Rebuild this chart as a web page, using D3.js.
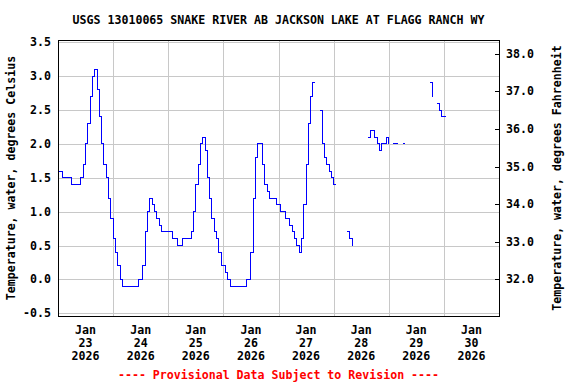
<!DOCTYPE html>
<html>
<head>
<meta charset="utf-8">
<script src="https://cdn.jsdelivr.net/npm/d3@7"></script>
<style>
  body { margin: 0; background: #fff; }
  svg text { font-family: "DejaVu Sans Mono", "Liberation Mono", monospace; font-weight: bold; font-size: 11.6px; }
</style>
</head>
<body>
<svg id="chart" width="576" height="384"></svg>
<script>
// hourly water temperature, deg C (null = no data)
var jan23 = [1.6,1.6,1.5,1.5,1.5,1.5,1.4,1.4,1.4,1.4,1.5,1.7,2.0,2.3,2.7,3.0,3.1,2.8,2.4,2.0,1.7,1.5,1.2,0.9];
var jan24 = [0.6,0.4,0.2,0.0,-0.1,-0.1,-0.1,-0.1,-0.1,-0.1,-0.1,0.0,0.0,0.2,0.7,1.0,1.2,1.1,1.0,0.9,0.8,0.7,0.7,0.7];
var jan25 = [0.7,0.7,0.6,0.6,0.5,0.5,0.6,0.6,0.6,0.6,0.7,1.0,1.4,1.7,2.0,2.1,1.9,1.5,1.2,0.9,0.7,0.6,0.4,0.2];
var jan26 = [0.2,0.1,0.0,-0.1,-0.1,-0.1,-0.1,-0.1,-0.1,-0.1,0.0,0.0,0.4,1.2,1.8,2.0,2.0,1.7,1.4,1.3,1.2,1.2,1.2,1.1];
var jan27 = [1.1,1.0,1.0,0.9,0.9,0.8,0.7,0.6,0.5,0.4,0.6,1.1,1.7,2.3,2.7,2.9,2.9,null,2.5,2.0,1.8,1.7,1.6,1.5];
var jan28 = [1.4,1.4,null,null,null,null,0.7,0.6,0.5,null,null,null,null,null,null,2.1,2.2,2.2,2.1,2.0,1.9,2.0,2.0,2.1];
var jan29 = [2.0,null,2.0,2.0,2.0,null,2.0,2.0,null,null,null,null,null,null,null,null,null,null,2.9,2.7,null,2.6,2.5,2.4];
var jan30 = [2.4,2.4];

var days = [23, 24, 25, 26, 27, 28, 29, 30];
var celsiusTicks = [-0.5, 0.0, 0.5, 1.0, 1.5, 2.0, 2.5, 3.0, 3.5];
var fahrenheitTicks = [32, 33, 34, 35, 36, 37, 38];

var title = "USGS 13010065 SNAKE RIVER AB JACKSON LAKE AT FLAGG RANCH WY";

var plotL = 58, plotR = 499, plotT = 40, plotB = 316;

var svg = d3.select("#chart");

var data = [];
[jan23, jan24, jan25, jan26, jan27, jan28, jan29, jan30].forEach(function(day, i) {
  day.forEach(function(v, h) {
    data.push({ t: new Date(Date.UTC(2026, 0, 23 + i, h)), v: v });
  });
});

var x = d3.scaleUtc()
    .domain([new Date(Date.UTC(2026, 0, 23)), new Date(Date.UTC(2026, 0, 31))])
    .range([plotL, plotR]);

var y = d3.scaleLinear()
    .domain([-0.54, 3.534])
    .range([plotB, plotT]);

var yF = function(f) { return y((f - 32) / 1.8); };

// grid
svg.append("g")
  .selectAll("line")
    .data(celsiusTicks)
  .enter().append("line")
    .attr("x1", plotL).attr("x2", plotR)
    .attr("y1", function(d) { return Math.round(y(d)) + 0.5; })
    .attr("y2", function(d) { return Math.round(y(d)) + 0.5; })
    .attr("stroke", "#c8c8c8");

svg.append("g")
  .selectAll("line")
    .data(days.slice(1))
  .enter().append("line")
    .attr("x1", function(d) { return Math.round(x(new Date(Date.UTC(2026, 0, d)))) + 0.5; })
    .attr("x2", function(d) { return Math.round(x(new Date(Date.UTC(2026, 0, d)))) + 0.5; })
    .attr("y1", plotT).attr("y2", plotB)
    .attr("stroke", "#c8c8c8");

// data line
var line = d3.line()
    .defined(function(d) { return d.v != null; })
    .x(function(d) { return x(d.t); })
    .y(function(d) { return y(d.v); })
    .curve(d3.curveStepAfter);

svg.append("path")
    .datum(data)
    .attr("fill", "none")
    .attr("stroke", "#0000ff")
    .attr("stroke-width", 1)
    .attr("shape-rendering", "crispEdges")
    .attr("d", line);

// frame
svg.append("rect")
    .attr("x", plotL + 0.5).attr("y", plotT + 0.5)
    .attr("width", plotR - plotL).attr("height", plotB - plotT)
    .attr("fill", "none")
    .attr("stroke", "#000");

// left axis labels
svg.append("g")
  .selectAll("text")
    .data(celsiusTicks)
  .enter().append("text")
    .attr("x", 51)
    .attr("y", function(d) { return y(d) + 4; })
    .attr("text-anchor", "end")
    .text(function(d) { return d.toFixed(1); });

// right axis ticks + labels
svg.append("g")
  .selectAll("line")
    .data(fahrenheitTicks)
  .enter().append("line")
    .attr("x1", plotR - 4).attr("x2", plotR)
    .attr("y1", function(d) { return Math.round(yF(d)) + 0.5; })
    .attr("y2", function(d) { return Math.round(yF(d)) + 0.5; })
    .attr("stroke", "#000");

svg.append("g")
  .selectAll("text")
    .data(fahrenheitTicks)
  .enter().append("text")
    .attr("x", 506)
    .attr("y", function(d) { return yF(d) + 4; })
    .text(function(d) { return d.toFixed(1); });

// x labels at noon
var xl = svg.append("g")
  .selectAll("text")
    .data(days)
  .enter().append("text")
    .attr("text-anchor", "middle")
    .attr("transform", function(d) { return "translate(" + x(new Date(Date.UTC(2026, 0, d, 12))) + ",0)"; });
xl.append("tspan").attr("x", 0).attr("y", 334).text("Jan");
xl.append("tspan").attr("x", 0).attr("y", 347).text(function(d) { return d; });
xl.append("tspan").attr("x", 0).attr("y", 360).text("2026");

// titles
svg.append("text")
    .attr("x", (plotL + plotR) / 2)
    .attr("y", 24)
    .attr("text-anchor", "middle")
    .text(title);

svg.append("text")
    .attr("transform", "translate(15," + (plotT + plotB) / 2 + ") rotate(-90)")
    .attr("text-anchor", "middle")
    .text("Temperature, water, degrees Celsius");

svg.append("text")
    .attr("transform", "translate(561," + (plotT + plotB) / 2 + ") rotate(-90)")
    .attr("text-anchor", "middle")
    .text("Temperature, water, degrees Fahrenheit");

svg.append("text")
    .attr("x", (plotL + plotR) / 2)
    .attr("y", 379)
    .attr("text-anchor", "middle")
    .attr("fill", "#ff0000")
    .text("---- Provisional Data Subject to Revision ----");
</script>
</body>
</html>
